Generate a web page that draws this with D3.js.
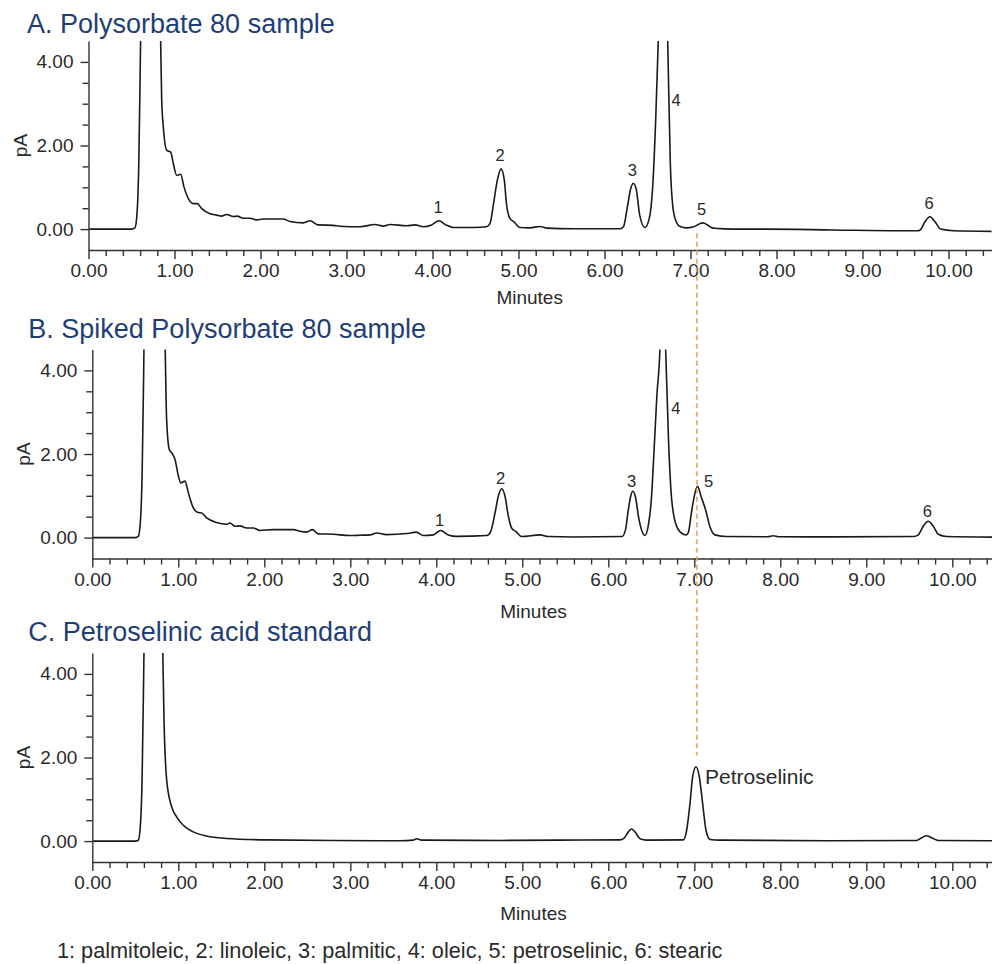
<!DOCTYPE html>
<html lang="en">
<head>
    <meta charset="UTF-8">
    <title>Polysorbate 80 fatty acid chromatograms</title>
    <script src="https://d3js.org/d3.v7.min.js"></script>
    <style>
        body { margin: 0; background: #fff; }
        svg { display: block; font-family: "Liberation Sans", Arial, sans-serif; }
        .trace { fill: none; stroke: #1a1a1a; stroke-width: 1.6; stroke-linejoin: round; }
        .axis path, .axis line { stroke: #333; stroke-width: 1.4; }
        .axis text { font-size: 19px; fill: #2a2a2a; font-family: "Liberation Sans", Arial, sans-serif; }
        .title { font-size: 27px; fill: #1f3e76; }
        .axis-label { font-size: 19px; fill: #2a2a2a; }
        .peak-label { font-size: 16.5px; fill: #2a2a2a; text-anchor: middle; }
        .marker { stroke: #e8a04c; stroke-width: 1.5; stroke-dasharray: 5, 3.5; }
        .footer { font-size: 21.7px; fill: #2a2a2a; }
    </style>
</head>
<body>

<div id="chart-container"></div>

<script>
    // ---- data (time in minutes, signal in pA) ----
    const timesA = [0.00, 0.50, 0.54, 0.565, 0.585, 0.60, 0.615, 0.66, 0.72, 0.79, 0.825, 0.839, 0.851, 0.870, 0.909, 0.935,
        0.956, 0.986, 1.025, 1.05, 1.072, 1.110, 1.161, 1.219, 1.265, 1.316, 1.413, 1.490, 1.548, 1.607, 1.684, 1.730,
        1.80, 1.878, 1.956, 2.033, 2.265, 2.343, 2.498, 2.576, 2.672, 2.847, 2.924, 3.157, 3.331, 3.43, 3.506, 3.70,
        3.797, 3.894, 3.99, 4.076, 4.157, 4.243, 4.475, 4.63, 4.669, 4.71, 4.754, 4.797, 4.835, 4.86, 4.90, 4.947,
        5.017, 5.134, 5.25, 5.328, 5.64, 6.18, 6.22, 6.266, 6.305, 6.335, 6.367, 6.41, 6.47, 6.52, 6.56, 6.595,
        6.625, 6.68, 6.735, 6.765, 6.80, 6.84, 6.88, 6.95, 7.03, 7.09, 7.142, 7.19, 7.23, 7.28, 7.50, 7.89,
        8.66, 9.44, 9.65, 9.68, 9.726, 9.785, 9.843, 9.909, 10.057, 10.50];
    const signalA = [0.00, 0.00, 0.03, 0.4, 1.6, 3.6, 6.0, 14, 18, 12, 6.0, 4.5, 3.1, 2.45, 1.89, 1.86,
        1.84, 1.57, 1.29, 1.30, 1.31, 1.01, 0.73, 0.61, 0.61, 0.49, 0.37, 0.335, 0.31, 0.35, 0.30, 0.31,
        0.26, 0.26, 0.22, 0.24, 0.24, 0.18, 0.15, 0.20, 0.10, 0.09, 0.07, 0.056, 0.11, 0.07, 0.11, 0.08,
        0.10, 0.056, 0.10, 0.20, 0.10, 0.04, 0.04, 0.056, 0.135, 0.61, 1.17, 1.44, 1.17, 0.61, 0.255, 0.175,
        0.04, 0.03, 0.064, 0.024, 0.01, 0.01, 0.056, 0.53, 0.97, 1.09, 0.97, 0.33, 0.04, 0.25, 1.0, 2.6,
        4.5, 8.5, 4.5, 1.6, 0.45, 0.15, 0.06, 0.03, 0.05, 0.11, 0.15, 0.11, 0.05, 0.02, 0.00, 0.00,
        -0.02, -0.04, -0.04, 0.00, 0.175, 0.295, 0.175, 0.00, -0.04, -0.055];

    const timesB = [0.00, 0.50, 0.535, 0.56, 0.58, 0.595, 0.61, 0.66, 0.72, 0.80, 0.835, 0.848, 0.864, 0.895, 0.922, 0.962,
        1.001, 1.028, 1.078, 1.117, 1.175, 1.233, 1.272, 1.330, 1.446, 1.562, 1.60, 1.66, 1.717, 1.795, 1.873, 1.95,
        2.105, 2.338, 2.415, 2.493, 2.559, 2.628, 2.80, 2.997, 3.113, 3.23, 3.306, 3.42, 3.655, 3.77, 3.849, 3.965,
        4.05, 4.14, 4.237, 4.586, 4.632, 4.683, 4.721, 4.76, 4.799, 4.838, 4.877, 4.927, 4.993, 5.206, 5.30, 5.594,
        6.16, 6.20, 6.233, 6.26, 6.283, 6.314, 6.357, 6.427, 6.47, 6.50, 6.53, 6.565, 6.60, 6.635, 6.667, 6.70,
        6.737, 6.795, 6.873, 6.904, 6.93, 6.969, 7.008, 7.039, 7.078, 7.136, 7.18, 7.24, 7.376, 7.85, 7.918, 7.98,
        8.617, 9.55, 9.604, 9.662, 9.72, 9.779, 9.837, 9.934, 10.50];
    const signalB = [0.00, 0.00, 0.03, 0.4, 1.6, 3.6, 6.0, 14, 18, 12, 6.0, 4.5, 2.84, 2.11, 2.03, 1.87,
        1.47, 1.31, 1.35, 1.07, 0.71, 0.60, 0.59, 0.47, 0.36, 0.32, 0.35, 0.27, 0.28, 0.23, 0.23, 0.17,
        0.19, 0.19, 0.15, 0.13, 0.19, 0.09, 0.08, 0.05, 0.057, 0.065, 0.11, 0.07, 0.097, 0.13, 0.05, 0.065,
        0.17, 0.065, 0.03, 0.05, 0.145, 0.59, 0.99, 1.17, 0.99, 0.51, 0.225, 0.145, 0.025, 0.065, 0.025, 0.015,
        0.025, 0.185, 0.67, 0.99, 1.11, 0.99, 0.43, 0.05, 0.35, 0.9, 2.0, 3.4, 4.5, 7.5, 4.5, 2.35,
        0.91, 0.27, 0.08, 0.065, 0.12, 0.63, 1.07, 1.23, 0.99, 0.63, 0.27, 0.065, 0.025, 0.02, 0.045, 0.02,
        0.017, 0.025, 0.065, 0.27, 0.39, 0.27, 0.08, 0.025, 0.01];

    const timesC = [0.00, 0.50, 0.535, 0.56, 0.58, 0.595, 0.61, 0.66, 0.72, 0.79, 0.812, 0.82, 0.834, 0.865, 0.923, 0.981,
        1.058, 1.175, 1.328, 1.561, 2.027, 2.80, 3.578, 3.73, 3.772, 3.83, 4.74, 5.44, 6.136, 6.18, 6.233, 6.27,
        6.31, 6.37, 6.446, 6.872, 6.911, 6.95, 6.981, 7.02, 7.058, 7.097, 7.136, 7.183, 7.30, 8.538, 9.585, 9.643,
        9.702, 9.76, 9.838, 10.50];
    const signalC = [0.00, 0.00, 0.02, 0.4, 1.6, 3.6, 6.0, 14, 18, 10, 5.5, 4.5, 2.9, 1.46, 0.82, 0.58,
        0.38, 0.22, 0.12, 0.064, 0.03, 0.016, 0.008, 0.024, 0.056, 0.024, 0.016, 0.024, 0.03, 0.064, 0.22, 0.29,
        0.22, 0.056, 0.024, 0.03, 0.26, 0.9, 1.54, 1.78, 1.54, 0.9, 0.26, 0.04, 0.024, 0.008, 0.016, 0.08,
        0.128, 0.08, 0.016, 0.008];

    // peak identifications
    const peakNamesA = ["1", "2", "3", "4", "5", "6"];
    const peakTimesA = [4.076, 4.797, 6.335, 6.68, 7.142, 9.785];
    const peakNamesB = ["1", "2", "3", "4", "5", "6"];
    const peakTimesB = [4.05, 4.76, 6.283, 6.635, 7.039, 9.72];
    const peakNamesC = ["Petroselinic"];
    const peakTimesC = [7.02];

    const markerTime = 7.03;   // petroselinic retention time marker
    const xTicksMajor = [0, 1, 2, 3, 4, 5, 6, 7, 8, 9, 10];
    const yTicksMajor = [0, 2, 4];

    const titles = ["A. Polysorbate 80 sample", "B. Spiked Polysorbate 80 sample", "C. Petroselinic acid standard"];
    const footerText = "1: palmitoleic, 2: linoleic, 3: palmitic, 4: oleic, 5: petroselinic, 6: stearic";

    // ---- layout ----
    const W = 992, H = 964;
    const pxPerMin = 86;
    const panels = [
        { times: timesA, signal: signalA, names: peakNamesA, peaks: peakTimesA, x0: 88.5, top: 41, bottom: 250,
          titleX: 27, titleY: 33.3, gap: 7.5, minutesDy: 54, place: ["above", "above", "above", "beside", "above", "above"] },
        { times: timesB, signal: signalB, names: peakNamesB, peaks: peakTimesB, x0: 92.3, top: 349.5, bottom: 558.5,
          titleX: 28.3, titleY: 338.3, gap: 4.5, minutesDy: 59, place: ["above", "above", "above", "beside", "right", "above"] },
        { times: timesC, signal: signalC, names: peakNamesC, peaks: peakTimesC, x0: 92.3, top: 653, bottom: 862,
          titleX: 28.3, titleY: 640.7, gap: 6, minutesDy: 58, place: ["text"] }
    ];

    const svg = d3.select("#chart-container")
        .append("svg")
        .attr("width", W)
        .attr("height", H);

    const defs = svg.append("defs");

    panels.forEach((p, i) => {
        p.x = d3.scaleLinear().domain([0, 10.5]).range([p.x0, p.x0 + 10.5 * pxPerMin]);
        p.y = d3.scaleLinear().domain([-0.5, 4.5]).range([p.bottom, p.top]);
        const g = svg.append("g");

        // title
        g.append("text")
            .attr("class", "title")
            .attr("x", p.titleX)
            .attr("y", p.titleY)
            .text(titles[i]);

        // clip for the trace
        defs.append("clipPath").attr("id", "clip" + i)
            .append("rect")
            .attr("x", p.x0).attr("y", p.top)
            .attr("width", W - p.x0).attr("height", p.bottom - p.top);

        const pts = p.times.map((t, k) => [t, p.signal[k]]);
        const line = d3.line()
            .x(d => p.x(d[0]))
            .y(d => p.y(d[1]))
            .curve(d3.curveMonotoneX);

        g.append("path")
            .datum(pts)
            .attr("class", "trace")
            .attr("clip-path", "url(#clip" + i + ")")
            .attr("d", line);

        // x axis: minor ticks every 0.2 min, labelled majors every minute
        const xMinor = d3.range(0, 10.5, 0.2).filter(v => Math.abs(v - Math.round(v)) > 0.01);
        g.append("g")
            .attr("class", "axis")
            .attr("transform", "translate(0," + p.bottom + ")")
            .call(d3.axisBottom(p.x).tickValues(xMinor).tickSize(6).tickFormat(""))
            .call(a => a.select(".domain").remove());
        g.append("g")
            .attr("class", "axis")
            .attr("transform", "translate(0," + p.bottom + ")")
            .call(d3.axisBottom(p.x).tickValues(xTicksMajor).tickSize(9).tickPadding(5)
                .tickFormat(d3.format(".2f")).tickSizeOuter(0));

        // y axis
        g.append("g")
            .attr("class", "axis")
            .attr("transform", "translate(" + p.x0 + ",0)")
            .call(d3.axisLeft(p.y).tickValues([0.5, 1, 1.5, 2.5, 3, 3.5]).tickSize(6).tickFormat(""))
            .call(a => a.select(".domain").remove());
        g.append("g")
            .attr("class", "axis")
            .attr("transform", "translate(" + p.x0 + ",0)")
            .call(d3.axisLeft(p.y).tickValues(yTicksMajor).tickSize(8).tickPadding(7)
                .tickFormat(d3.format(".2f")).tickSizeOuter(0));

        // axis titles
        g.append("text")
            .attr("class", "axis-label")
            .attr("text-anchor", "middle")
            .attr("transform", "translate(" + (p.x0 - 62) + "," + p.y(2) + ") rotate(-90)")
            .text("pA");
        g.append("text")
            .attr("class", "axis-label")
            .attr("text-anchor", "middle")
            .attr("x", p.x(5.13))
            .attr("y", p.bottom + p.minutesDy)
            .text("Minutes");

        // peak labels
        p.names.forEach((name, k) => {
            const t = p.peaks[k];
            const near = pts.filter(d => Math.abs(d[0] - t) < 0.03);
            const apex = Math.min(4.5, d3.max(near, d => d[1]));
            const ax = p.x(t), ay = p.y(apex);
            const lab = g.append("text").attr("class", "peak-label").text(name);
            if (p.place[k] === "above") {
                lab.attr("x", ax - 1).attr("y", ay - p.gap);
            } else if (p.place[k] === "beside") {
                lab.attr("x", ax + 13).attr("y", p.y(2.95));
            } else if (p.place[k] === "right") {
                lab.attr("x", ax + 11).attr("y", ay + 1);
            } else {
                lab.attr("x", ax + 9).attr("y", ay + 17)
                    .style("text-anchor", "start").style("font-size", "21px");
            }
        });
    });

    // dashed retention-time marker through all three panels
    const pa = panels[0], pc = panels[2];
    svg.append("line")
        .attr("class", "marker")
        .attr("x1", pc.x(markerTime)).attr("x2", pc.x(markerTime))
        .attr("y1", pa.y(-0.1))
        .attr("y2", pc.y(2.05));

    svg.append("text")
        .attr("class", "footer")
        .attr("x", 57)
        .attr("y", 958)
        .text(footerText);
</script>

</body>
</html>
